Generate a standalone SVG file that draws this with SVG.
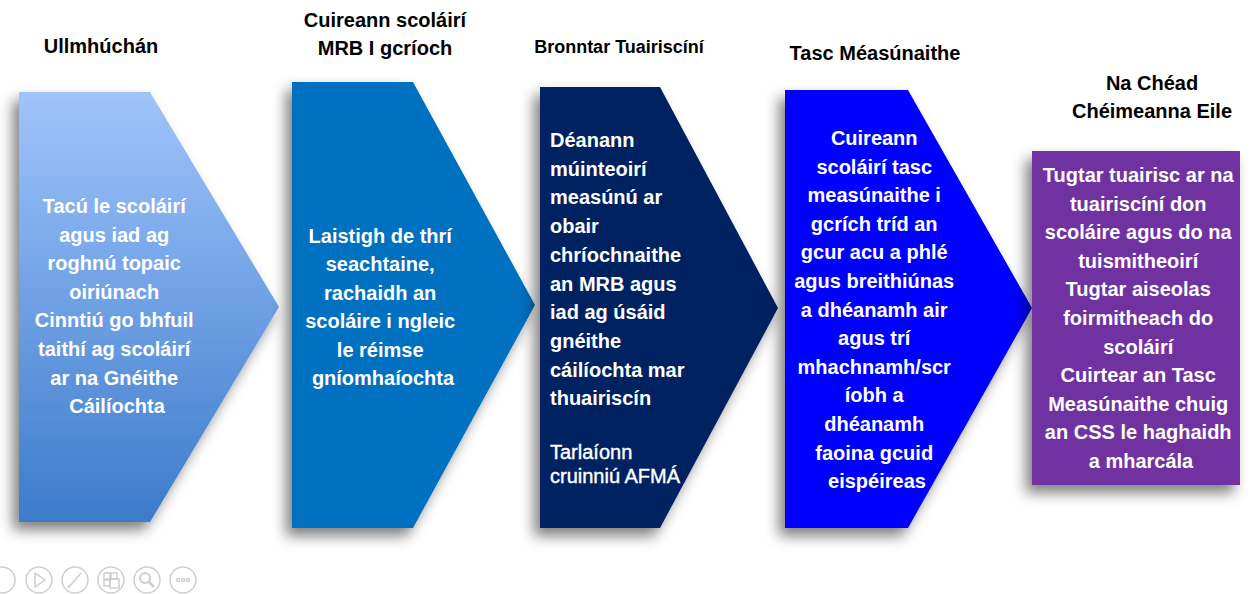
<svg xmlns="http://www.w3.org/2000/svg" width="1250" height="594" viewBox="0 0 1250 594">
<style>
.hdr{font-family:"Liberation Sans",Arial,sans-serif;font-weight:bold;font-size:20px;fill:#000;text-anchor:middle}
.t{font-family:"Liberation Sans",Arial,sans-serif;font-weight:bold;font-size:20px;fill:#fff}
.c{text-anchor:middle}
.reg{font-weight:normal;font-size:20px}
.ic{fill:none;stroke:#cfcfcf;stroke-width:1.5}
</style>
<defs>
<linearGradient id="g1" x1="0" y1="0" x2="0" y2="1">
<stop offset="0" stop-color="#A0C4FB"/>
<stop offset="1" stop-color="#3C7BCB"/>
</linearGradient>
<filter id="sh" x="-20%" y="-10%" width="140%" height="125%">
<feGaussianBlur in="SourceAlpha" stdDeviation="7"/>
<feOffset dx="-6" dy="8" result="b"/>
<feFlood flood-color="#000" flood-opacity="0.5"/>
<feComposite in2="b" operator="in"/>
<feMerge><feMergeNode/><feMergeNode in="SourceGraphic"/></feMerge>
</filter>
</defs>
<rect width="1250" height="594" fill="#fff"/>

<g id="headers">
<text class="hdr" x="101" y="53">Ullmhúchán</text>
<text class="hdr" x="385" y="27">Cuireann scoláirí</text>
<text class="hdr" x="385" y="55">MRB I gcríoch</text>
<text class="hdr" x="619" y="53" style="font-size:18px">Bronntar Tuairiscíní</text>
<text class="hdr" x="875" y="60">Tasc Méasúnaithe</text>
<text class="hdr" x="1152" y="90">Na Chéad</text>
<text class="hdr" x="1152" y="118">Chéimeanna Eile</text>
</g>

<g id="node1">
<polygon points="19,92 150,92 279,307 150,522 19,522" fill="url(#g1)" filter="url(#sh)"/>
<text class="t c" x="117" y="213">
<tspan x="117">Tacú le scoláirí</tspan>
<tspan x="117" dy="28.6">agus iad ag</tspan>
<tspan x="117" dy="28.6">roghnú topaic</tspan>
<tspan x="117" dy="28.6">oiriúnach</tspan>
<tspan x="117" dy="28.6">Cinntiú go bhfuil</tspan>
<tspan x="117" dy="28.6">taithí ag scoláirí</tspan>
<tspan x="117" dy="28.6">ar na Gnéithe</tspan>
<tspan x="117" dy="28.6">Cáilíochta</tspan>
</text>
</g>

<g id="node2">
<polygon points="292,82 413,82 535,305 413,528 292,528" fill="#0070C0" filter="url(#sh)"/>
<text class="t c" x="383" y="243">
<tspan x="383">Laistigh de thrí</tspan>
<tspan x="383" dy="28.4">seachtaine,</tspan>
<tspan x="383" dy="28.4">rachaidh an</tspan>
<tspan x="383" dy="28.4">scoláire i ngleic</tspan>
<tspan x="383" dy="28.4">le réimse</tspan>
<tspan x="383" dy="28.4">gníomhaíochta</tspan>
</text>
</g>

<g id="node3">
<polygon points="540,87 660,87 778,308 660,528 540,528" fill="#002060" filter="url(#sh)"/>
<text class="t" x="550" y="147">
<tspan x="550">Déanann</tspan>
<tspan x="550" dy="28.7">múinteoirí</tspan>
<tspan x="550" dy="28.7">measúnú ar</tspan>
<tspan x="550" dy="28.7">obair</tspan>
<tspan x="550" dy="28.7">chríochnaithe</tspan>
<tspan x="550" dy="28.7">an MRB agus</tspan>
<tspan x="550" dy="28.7">iad ag úsáid</tspan>
<tspan x="550" dy="28.7">gnéithe</tspan>
<tspan x="550" dy="28.7">cáilíochta mar</tspan>
<tspan x="550" dy="28.7">thuairiscín</tspan>
</text>
<text class="t reg" x="550" y="459" style="stroke:#fff;stroke-width:0.4">
<tspan x="550">Tarlaíonn</tspan>
<tspan x="550" dy="24">cruinniú AFMÁ</tspan>
</text>
</g>

<g id="node4">
<polygon points="785,90 908,90 1032,308 908,528 785,528" fill="#0000FF" filter="url(#sh)"/>
<text class="t c" x="877" y="145">
<tspan x="877">Cuireann</tspan>
<tspan x="877" dy="28.6">scoláirí tasc</tspan>
<tspan x="877" dy="28.6">measúnaithe i</tspan>
<tspan x="877" dy="28.6">gcrích tríd an</tspan>
<tspan x="877" dy="28.6">gcur acu a phlé</tspan>
<tspan x="877" dy="28.6">agus breithiúnas</tspan>
<tspan x="877" dy="28.6">a dhéanamh air</tspan>
<tspan x="877" dy="28.6">agus trí</tspan>
<tspan x="877" dy="28.6">mhachnamh/scr</tspan>
<tspan x="877" dy="28.6">íobh a</tspan>
<tspan x="877" dy="28.6">dhéanamh</tspan>
<tspan x="877" dy="28.6">faoina gcuid</tspan>
<tspan x="877" dy="28.6">eispéireas</tspan>
</text>
</g>

<g id="node5">
<rect x="1032" y="151" width="208" height="334" fill="#7030A0" filter="url(#sh)"/>
<text class="t c" x="1141" y="182">
<tspan x="1141">Tugtar tuairisc ar na</tspan>
<tspan x="1141" dy="28.6">tuairiscíní don</tspan>
<tspan x="1141" dy="28.6">scoláire agus do na</tspan>
<tspan x="1141" dy="28.6">tuismitheoirí</tspan>
<tspan x="1141" dy="28.6">Tugtar aiseolas</tspan>
<tspan x="1141" dy="28.6">foirmitheach do</tspan>
<tspan x="1141" dy="28.6">scoláirí</tspan>
<tspan x="1141" dy="28.6">Cuirtear an Tasc</tspan>
<tspan x="1141" dy="28.6">Measúnaithe chuig</tspan>
<tspan x="1141" dy="28.6">an CSS le haghaidh</tspan>
<tspan x="1141" dy="28.6">a mharcála</tspan>
</text>
</g>

<g id="connectors"></g>

<g id="controls">
<circle class="ic" cx="2" cy="580" r="13"/>
<circle class="ic" cx="39" cy="580" r="13"/>
<polygon class="ic" points="35,573 45,580 35,587"/>
<circle class="ic" cx="75" cy="580" r="13"/>
<path class="ic" d="M69,587 L81,573 M68,588 L70,585"/>
<circle class="ic" cx="111" cy="580" r="13"/>
<rect class="ic" x="104" y="573" width="6" height="6"/>
<rect class="ic" x="111" y="573" width="6" height="6"/>
<rect class="ic" x="104" y="580" width="6" height="6"/>
<rect class="ic" x="110" y="579" width="9" height="9"/>
<circle class="ic" cx="147" cy="580" r="13"/>
<circle class="ic" cx="145" cy="578" r="5" style="stroke-width:2"/>
<path class="ic" d="M149,582 L154,587" style="stroke-width:2.5"/>
<circle class="ic" cx="183" cy="580" r="13"/>
<circle class="ic" cx="178" cy="580" r="1.6"/>
<circle class="ic" cx="183" cy="580" r="1.6"/>
<circle class="ic" cx="188" cy="580" r="1.6"/>
</g>
</svg>
